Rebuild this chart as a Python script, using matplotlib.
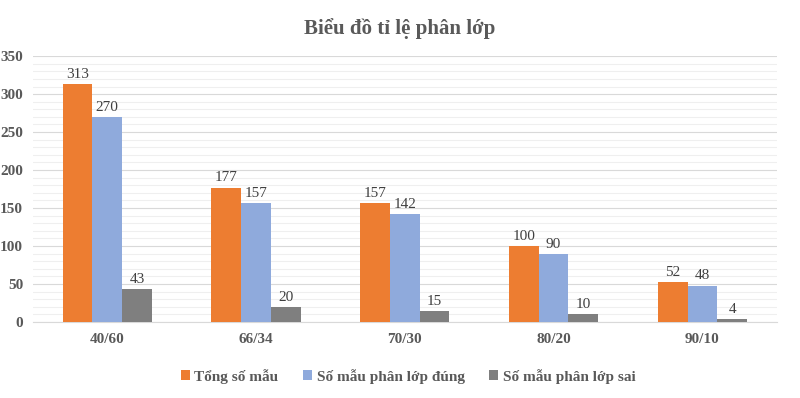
import matplotlib
matplotlib.use("Agg")
import matplotlib.pyplot as plt
import numpy as np
from matplotlib.ticker import MultipleLocator

categories = ["40/60", "66/34", "70/30", "80/20", "90/10"]
tong_so_mau = [313, 177, 157, 100, 52]
phan_lop_dung = [270, 157, 142, 90, 48]
phan_lop_sai = [43, 20, 15, 10, 4]
series_names = ["Tổng số mẫu", "Số mẫu phân lớp đúng", "Số mẫu phân lớp sai"]
colors = ["#ED7D31", "#8FAADC", "#7F7F7F"]

plt.rcParams["font.family"] = ["Liberation Serif", "DejaVu Serif"]

fig = plt.figure(figsize=(8, 3.98), dpi=100)
ax = fig.add_axes([0.041, 0.191, 0.93, 0.668])

x = np.arange(len(categories))
width = 0.2
for i, (vals, name, col) in enumerate(zip([tong_so_mau, phan_lop_dung, phan_lop_sai], series_names, colors)):
    bars = ax.bar(x + (i - 1) * width, vals, width, color=col, label=name, zorder=3)
    for b, v in zip(bars, vals):
        ax.text(b.get_x() + b.get_width() / 2, v + 4, str(v), ha="center", va="bottom",
                fontsize=11, color="#404040")

ax.set_xlim(-0.5, len(categories) - 0.5)
ax.set_ylim(0, 350)
ax.yaxis.set_major_locator(MultipleLocator(50))
ax.yaxis.set_minor_locator(MultipleLocator(10))
ax.grid(axis="y", which="major", color="#D9D9D9", linewidth=0.8, zorder=0)
ax.grid(axis="y", which="minor", color="#EFEFEF", linewidth=0.8, zorder=0)
ax.set_xticks(x)
ax.set_xticklabels(categories, fontsize=11, fontweight="bold", color="#595959")
for lbl in ax.get_yticklabels():
    lbl.set_fontsize(11)
    lbl.set_fontweight("bold")
    lbl.set_color("#595959")
ax.tick_params(axis="both", which="both", length=0, pad=8)
ax.tick_params(axis="y", pad=7)
for s in ["top", "right", "left"]:
    ax.spines[s].set_visible(False)
ax.spines["bottom"].set_color("#D9D9D9")

fig.suptitle("Biểu đồ tỉ lệ phân lớp", y=0.955, fontsize=15, fontweight="bold", color="#595959")

fig.legend(loc="center", bbox_to_anchor=(0.51, 0.055), ncol=3, frameon=False,
           handlelength=0.6, handleheight=0.6, handletextpad=0.3, columnspacing=1.6,
           prop={"size": 11, "weight": "bold"}, labelcolor="#595959")

fig.savefig("out.png", dpi=100)
